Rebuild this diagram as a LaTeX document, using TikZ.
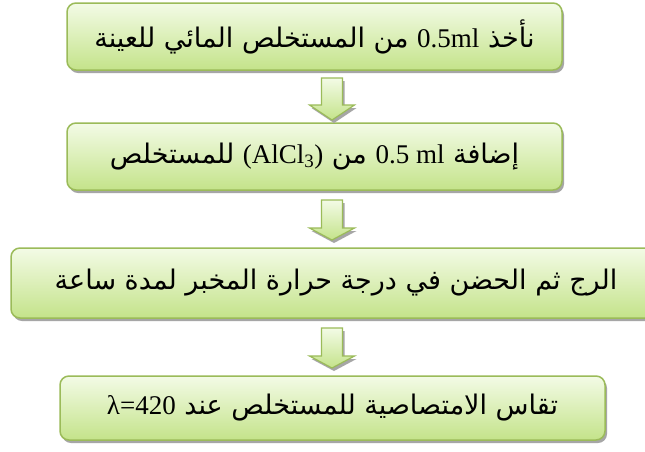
\documentclass[tikz,border=0pt]{standalone}
\usepackage{fontspec}
\setmainfont{Liberation Serif}
\newfontfamily\arabicfont[Script=Arabic]{DejaVu Sans}
\newfontfamily\latinfont{Liberation Serif}
\TeXXeTstate=1
\usetikzlibrary{shadows}
\definecolor{boxline}{HTML}{9BBB59}
\definecolor{boxtop}{HTML}{F3FBE6}
\definecolor{boxbot}{HTML}{C4E38A}
\definecolor{shadowgray}{HTML}{A6A6A6}
\tikzset{
  stepbox/.style={draw=boxline, line width=1.5pt, rounded corners=9pt,
    top color=boxtop, bottom color=boxbot,
    drop shadow={shadow xshift=2pt, shadow yshift=-3pt, fill=shadowgray, opacity=1},
    inner sep=0pt, font=\fontsize{27}{32}\selectfont},
  flowarrow/.style={draw=boxline, line width=1.2pt,
    top color=boxtop, bottom color=boxbot,
    drop shadow={shadow xshift=2pt, shadow yshift=-3pt, fill=shadowgray, opacity=1}}
}
% #1 x, #2 top of shaft, #3 base of head, #4 tip
\newcommand\blockdown[4]{%
  \draw[flowarrow] (#1-10.5,#2) -- (#1+10.5,#2) -- (#1+10.5,#3) -- (#1+22.5,#3)
    -- (#1,#4) -- (#1-22.5,#3) -- (#1-10.5,#3) -- cycle;}
\begin{document}
\begin{tikzpicture}[x=1pt,y=-1pt]
\clip (0,0) rectangle (645,451);
\fill[white] (0,0) rectangle (645,451);
\node[stepbox, minimum width=495pt, minimum height=67pt] (b1) at (314.5,36.5)
  {\arabicfont\beginR نأخذ \beginL{\latinfont 0.5ml}\endL{} من المستخلص المائي للعينة\endR};
\node[stepbox, minimum width=495pt, minimum height=67pt] (b2) at (314.5,156.5)
  {\arabicfont\beginR إضافة \beginL{\latinfont 0.5 ml}\endL{} من \beginL{\latinfont (AlCl\textsubscript{3})}\endL{} للمستخلص\endR};
\node[stepbox, minimum width=650pt, minimum height=70pt] (b3) at (336,283)
  {\arabicfont\beginR الرج ثم الحضن في درجة حرارة المخبر لمدة ساعة\endR};
\node[stepbox, minimum width=545pt, minimum height=64pt] (b4) at (332.5,408)
  {\arabicfont\beginR تقاس الامتصاصية للمستخلص عند \beginL{\latinfont λ=420}\endL\endR};
\blockdown{332}{78}{105}{120}
\blockdown{332}{200}{228}{240}
\blockdown{332}{328}{356}{368}
\end{tikzpicture}
\end{document}
